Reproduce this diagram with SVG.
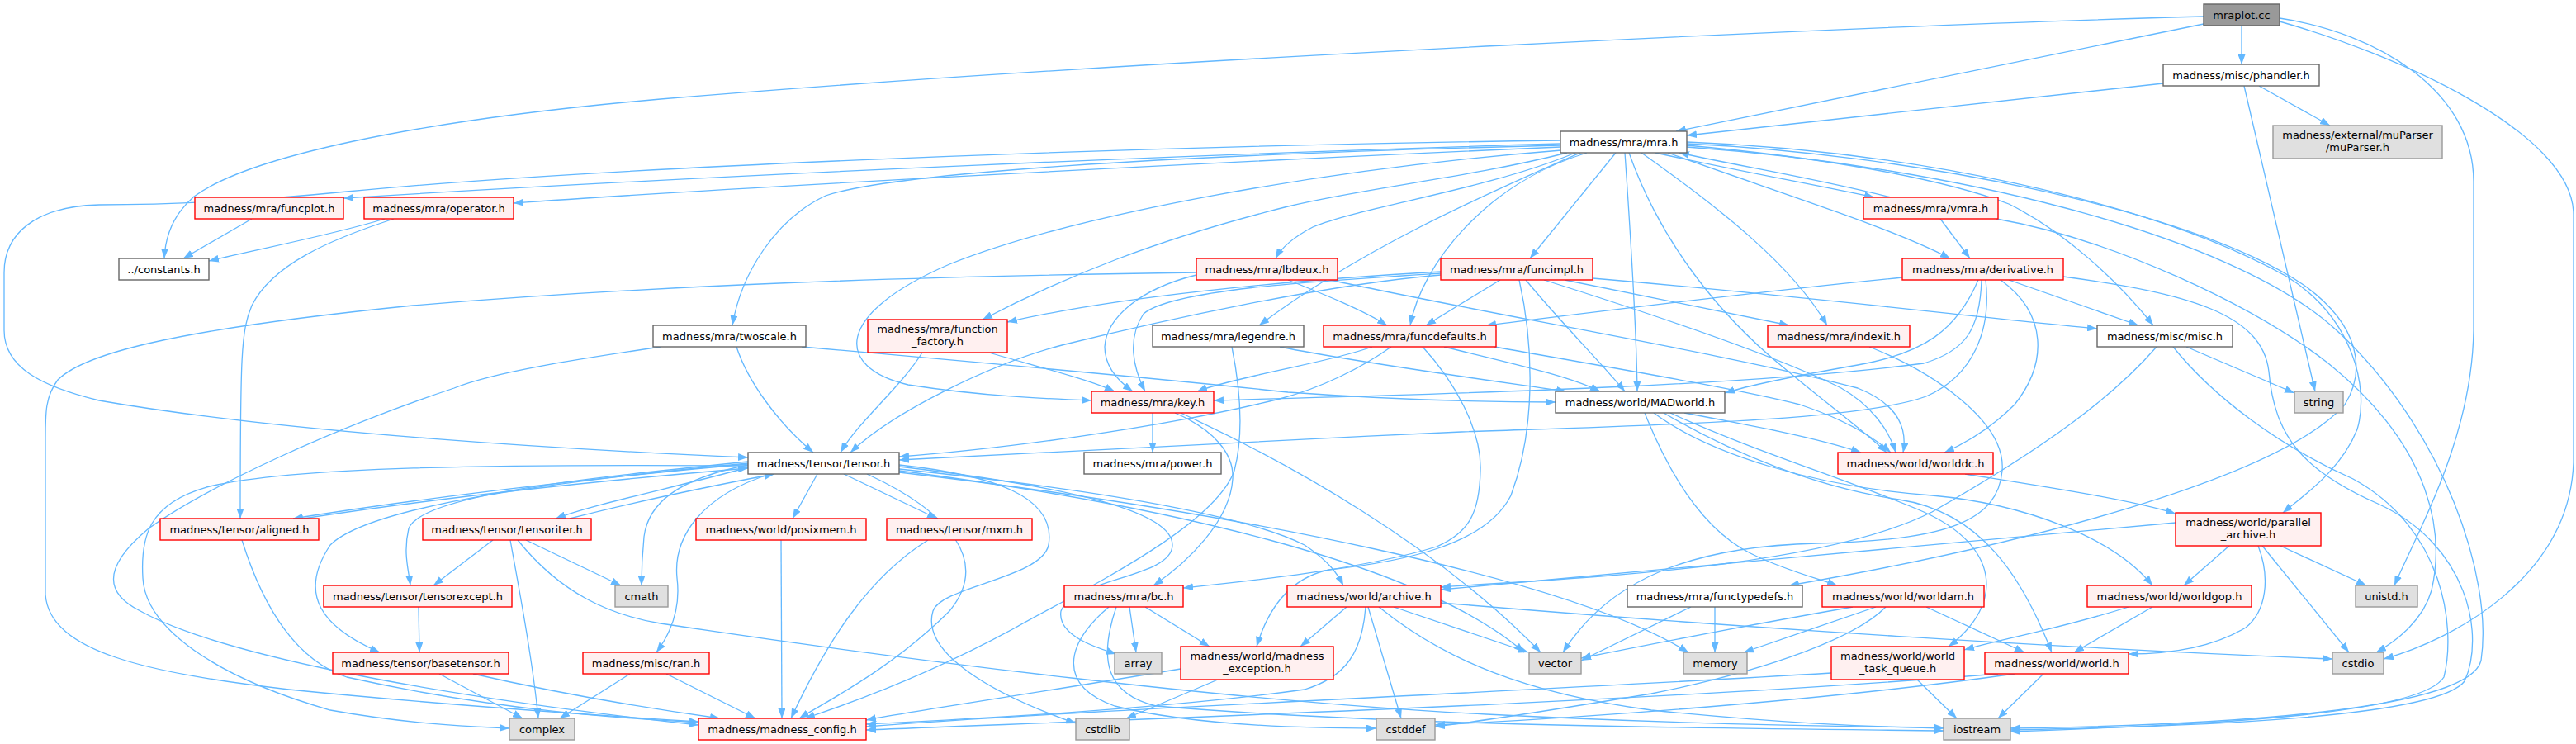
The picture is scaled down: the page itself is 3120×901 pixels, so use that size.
<svg xmlns="http://www.w3.org/2000/svg" width="3120" height="901" viewBox="0 0 3120 901">
<style>
rect{stroke-width:1.4}
.w rect{fill:#ffffff;stroke:#666666}
.r rect{fill:#fff0f0;stroke:#ff0000}
.g rect{fill:#e0e0e0;stroke:#999999}
.root rect{fill:#999999;stroke:#666666}
text{font-family:"DejaVu Sans","Liberation Sans",sans-serif;font-size:13px;text-anchor:middle;fill:#000000}
#edges path{fill:none;stroke:#63b8ff;stroke-width:1.3;marker-end:url(#a)}
</style>
<defs>
<marker id="a" markerUnits="userSpaceOnUse" markerWidth="12" markerHeight="9" refX="12" refY="4.5" orient="auto" viewBox="0 0 12 9"><path d="M0,0 L12,4.5 L0,9 z" fill="#63b8ff"/></marker>
</defs>
<rect x="0" y="0" width="3120" height="901" fill="#ffffff" stroke="none"/>
<g id="edges">
<path d="M2669,20 C2300,30 1400,70 800,120 C500,146 300,190 235,238 C207,262 200,290 199,313"/>
<path d="M2669,29 L2030,159"/>
<path d="M2715,31 L2715,78"/>
<path d="M2761,22 C2880,40 2996,110 2996,220 L2996,400 C2994,530 2930,640 2900,709"/>
<path d="M2761,26 C2900,65 3117,160 3117,260 L3117,560 C3112,700 2970,775 2887,798"/>
<path d="M2620,101 L2043,164"/>
<path d="M2736,104 L2822,152"/>
<path d="M2718,104 L2804,474"/>
<path d="M1890,170 C1300,178 700,205 420,232 C300,244 200,248 120,248 C40,250 5,285 5,330 L5,400 C5,445 50,468 120,485 C350,525 700,545 906,554"/>
<path d="M1890,174 C1500,185 900,210 416,240"/>
<path d="M1890,178 C1500,195 900,226 622,246"/>
<path d="M1890,176 C1400,188 1080,210 1000,237 C940,265 898,330 887,394"/>
<path d="M1891,182 C1600,205 1300,260 1150,320 C1010,380 1010,445 1100,466 C1190,480 1270,483 1322,485"/>
<path d="M1898,185 C1780,215 1650,228 1560,250 C1400,290 1290,335 1190,387"/>
<path d="M1908,185 C1800,230 1650,250 1590,275 C1565,288 1552,300 1545,313"/>
<path d="M1957,185 L1853,313"/>
<path d="M1922,185 C1800,222 1722,320 1708,394"/>
<path d="M1914,185 C1800,235 1650,300 1525,394"/>
<path d="M1968,185 C1976,300 1982,400 1983,474"/>
<path d="M1988,185 C2080,250 2170,320 2213,394"/>
<path d="M2005,185 C2100,206 2200,224 2270,239"/>
<path d="M2290,239 C2200,216 2100,200 2034,185"/>
<path d="M2020,185 C2150,232 2290,275 2362,313"/>
<path d="M2043,176 C2200,190 2350,215 2433,247 C2500,280 2565,340 2608,394"/>
<path d="M1973,185 C2010,290 2080,380 2160,445 C2220,495 2262,525 2285,548"/>
<path d="M2043,172 C2300,182 2600,240 2770,335 C2850,385 2870,470 2855,520 C2835,570 2790,600 2765,621"/>
<path d="M2043,174 C2300,186 2650,250 2790,345 C2860,395 2865,450 2840,490 C2760,580 2450,660 2167,709"/>
<path d="M2043,178 C2350,200 2700,280 2830,400 C2960,520 3020,700 3005,800 C2990,860 2700,878 2435,882"/>
<path d="M2350,265 L2386,313"/>
<path d="M2418,265 C2560,290 2730,370 2820,440 C2950,545 2960,650 2945,715 C2935,750 2905,775 2878,790"/>
<path d="M2304,336 C2100,356 1900,382 1800,394"/>
<path d="M2433,339 L2590,394"/>
<path d="M2400,339 C2398,400 2380,425 2330,440 C2100,470 1700,478 1470,485"/>
<path d="M2396,339 C2370,400 2330,428 2250,442 C2170,456 2120,466 2089,476"/>
<path d="M2405,339 C2412,400 2390,455 2333,480 C2250,510 2000,515 1770,523 C1500,535 1200,550 1089,557"/>
<path d="M2423,339 C2480,380 2480,440 2440,490 C2410,520 2380,537 2355,548"/>
<path d="M2499,335 C2650,355 2740,380 2748,450 C2755,530 2790,570 2880,610 C2990,660 3010,770 2985,825 C2950,870 2650,880 2435,884"/>
<path d="M2648,420 L2779,476"/>
<path d="M2632,420 C2680,480 2760,540 2850,580 C2960,640 2975,760 2960,820 C2930,868 2650,878 2435,886"/>
<path d="M2612,420 C2560,480 2480,540 2340,620 C2200,690 1900,700 1745,711"/>
<path d="M1817,339 L1727,394"/>
<path d="M1895,339 C2000,360 2100,380 2167,394"/>
<path d="M1929,337 C2200,360 2400,385 2540,398"/>
<path d="M1848,339 C1890,390 1940,440 1968,474"/>
<path d="M1870,339 C2000,380 2150,430 2230,470 C2265,490 2288,520 2296,548"/>
<path d="M1840,339 C1858,420 1860,520 1830,600 C1800,660 1700,680 1610,690 C1560,700 1535,740 1522,783"/>
<path d="M1745,329 C1550,340 1350,360 1220,390"/>
<path d="M1745,331 C1600,340 1420,350 1385,380 C1365,410 1372,445 1387,474"/>
<path d="M1745,333 C1600,345 1400,390 1290,417 C1200,440 1080,500 1030,548"/>
<path d="M1117,427 C1090,470 1040,510 1018,548"/>
<path d="M1198,427 C1260,445 1320,460 1350,474"/>
<path d="M892,420 C905,460 940,510 985,548"/>
<path d="M971,420 C1200,440 1400,458 1560,475 C1700,485 1800,487 1884,487"/>
<path d="M800,420 C700,435 600,450 550,470 C400,520 250,590 180,640 C120,690 130,720 170,740 C260,790 500,840 846,878"/>
<path d="M1550,420 C1650,440 1800,460 1897,474"/>
<path d="M1492,420 C1500,460 1508,520 1495,570 C1470,640 1300,720 1230,760 C1120,820 1020,855 975,870"/>
<path d="M1449,330 C1100,335 800,345 500,370 C200,400 100,430 70,460 C55,480 55,500 55,530 L55,720 C60,790 180,815 350,835 C550,855 750,868 846,874"/>
<path d="M1449,333 C1380,350 1340,385 1338,420 C1338,445 1355,462 1372,474"/>
<path d="M1560,339 C1600,355 1650,375 1680,394"/>
<path d="M1611,339 C1800,380 2100,430 2250,470 C2300,490 2310,520 2305,548"/>
<path d="M1662,420 C1620,435 1560,445 1520,455 C1490,462 1465,468 1450,474"/>
<path d="M1685,420 C1650,445 1600,470 1550,483 C1400,520 1200,545 1089,553"/>
<path d="M1723,420 C1760,460 1795,520 1793,570 C1792,620 1780,645 1740,662 C1650,690 1500,705 1433,712"/>
<path d="M1749,420 C1830,440 1900,455 1938,474"/>
<path d="M1810,420 C1950,445 2100,470 2180,490 C2240,510 2270,530 2290,548"/>
<path d="M1396,500 L1396,548"/>
<path d="M1423,500 C1470,520 1495,550 1493,580 C1490,630 1440,680 1397,709"/>
<path d="M1430,500 C1560,560 1740,660 1866,790"/>
<path d="M2040,500 C2120,515 2200,530 2254,548"/>
<path d="M1992,500 C2020,570 2060,640 2120,670 C2160,690 2200,700 2225,709"/>
<path d="M2003,500 C2070,550 2200,590 2340,600 C2450,610 2560,650 2607,709"/>
<path d="M2015,500 C2100,550 2200,590 2300,605 C2400,620 2450,700 2485,790"/>
<path d="M2023,500 C2120,545 2250,585 2330,620 C2420,660 2430,730 2360,783"/>
<path d="M2380,574 C2480,590 2580,605 2635,622"/>
<path d="M2635,633 C2400,655 2000,690 1745,714"/>
<path d="M2700,661 L2645,709"/>
<path d="M2735,661 C2750,700 2745,740 2720,760 C2670,790 2610,792 2578,792"/>
<path d="M2740,661 L2845,790"/>
<path d="M2762,661 L2866,709"/>
<path d="M2578,735 C2500,760 2420,775 2379,787"/>
<path d="M2607,735 L2512,790"/>
<path d="M2244,735 C2100,760 2000,780 1915,797"/>
<path d="M2272,735 L2112,790"/>
<path d="M2284,735 C2250,770 2150,810 2000,840 C1850,865 1780,875 1738,880"/>
<path d="M2333,735 L2452,790"/>
<path d="M2048,735 L1915,800"/>
<path d="M2077,735 L2077,790"/>
<path d="M1631,735 L1575,783"/>
<path d="M1688,735 L1851,790"/>
<path d="M1657,735 L1697,870"/>
<path d="M1670,735 C1750,800 1850,840 2000,860 C2150,875 2250,880 2354,882"/>
<path d="M1745,730 C2100,760 2500,785 2825,798"/>
<path d="M1654,735 C1650,790 1630,820 1580,835 C1400,860 1150,872 1049,877"/>
<path d="M1368,735 L1376,790"/>
<path d="M1387,735 L1465,783"/>
<path d="M1343,735 C1290,780 1280,830 1350,855 C1450,880 1600,882 1667,882"/>
<path d="M1352,735 C1330,800 1340,840 1400,855 C1700,880 2100,882 2354,885"/>
<path d="M1430,810 C1250,840 1100,862 1049,872"/>
<path d="M1475,823 L1364,870"/>
<path d="M2218,815 C1800,840 1300,860 1049,880"/>
<path d="M2322,823 L2370,870"/>
<path d="M2475,816 L2420,870"/>
<path d="M2440,816 C2200,850 1900,870 1738,878"/>
<path d="M2420,816 C2000,850 1400,870 1049,884"/>
<path d="M2264,420 C2340,450 2430,510 2425,570 C2420,630 2360,655 2200,658 C2050,662 1950,700 1893,790"/>
<path d="M946,654 L947,870"/>
<path d="M1124,654 C1050,700 1000,780 958,870"/>
<path d="M807,816 L915,870"/>
<path d="M763,816 L678,870"/>
<path d="M532,816 L633,870"/>
<path d="M573,816 C700,845 800,860 872,870"/>
<path d="M507,735 L508,790"/>
<path d="M597,654 L525,709"/>
<path d="M618,654 C630,720 645,800 652,870"/>
<path d="M637,654 L752,709"/>
<path d="M906,566 C820,590 720,610 673,628"/>
<path d="M690,628 C780,605 880,585 938,574"/>
<path d="M627,654 C680,720 740,745 800,755 C1100,800 1500,850 1800,865 C2000,875 2200,880 2354,881"/>
<path d="M293,654 C320,740 360,800 420,820 C600,860 750,870 846,875"/>
<path d="M367,628 C550,600 750,580 906,567"/>
<path d="M906,562 C700,580 500,605 355,628"/>
<path d="M906,559 C700,580 510,600 495,640 C488,670 495,690 497,709"/>
<path d="M906,561 C700,580 450,610 400,660 C360,720 390,760 460,790"/>
<path d="M906,563 C820,580 785,610 780,650 C777,680 777,695 777,709"/>
<path d="M933,574 C850,600 815,650 820,700 C825,740 810,770 795,790"/>
<path d="M906,564 C600,562 350,565 250,590 C180,610 170,650 173,700 C176,760 260,820 400,860 C500,878 580,880 617,882"/>
<path d="M990,574 L960,628"/>
<path d="M1022,574 L1135,628"/>
<path d="M1089,563 C1200,575 1280,600 1270,660 C1262,700 1140,710 1130,740 C1115,790 1200,840 1303,876"/>
<path d="M1089,565 C1300,590 1420,620 1420,660 C1420,700 1300,700 1285,740 C1280,770 1330,785 1352,792"/>
<path d="M1089,568 C1300,590 1500,620 1580,660 C1610,680 1620,695 1627,709"/>
<path d="M1089,570 C1400,610 1720,680 1846,790"/>
<path d="M1089,572 C1500,620 1900,700 2045,790"/>
<path d="M1050,574 C1150,620 1200,680 1150,740 C1080,810 1000,850 968,870"/>
<path d="M305,265 L222,313"/>
<path d="M466,265 C400,285 320,300 253,316"/>
<path d="M477,265 C400,290 330,320 305,370 C292,400 291,430 291,628"/>
</g>
<g id="n-mraplot" class="root"><rect x="2669" y="5" width="92" height="26"/><text x="2715" y="22.5">mraplot.cc</text></g>
<g id="n-phandler" class="w"><rect x="2620" y="78" width="189" height="26"/><text x="2714.5" y="95.5">madness/misc/phandler.h</text></g>
<g id="n-muparser" class="g"><rect x="2753" y="152" width="205" height="40"/><text x="2855.5" y="167.5">madness/external/muParser</text><text x="2855.5" y="182.5">/muParser.h</text></g>
<g id="n-mra" class="w"><rect x="1890" y="159" width="153" height="26"/><text x="1966.5" y="176.5">madness/mra/mra.h</text></g>
<g id="n-funcplot" class="r"><rect x="236" y="239" width="180" height="26"/><text x="326" y="256.5">madness/mra/funcplot.h</text></g>
<g id="n-operator" class="r"><rect x="441" y="239" width="181" height="26"/><text x="531.5" y="256.5">madness/mra/operator.h</text></g>
<g id="n-vmra" class="r"><rect x="2257" y="239" width="163" height="26"/><text x="2338.5" y="256.5">madness/mra/vmra.h</text></g>
<g id="n-constants" class="w"><rect x="144" y="313" width="109" height="26"/><text x="198.5" y="330.5">../constants.h</text></g>
<g id="n-lbdeux" class="r"><rect x="1449" y="313" width="171" height="26"/><text x="1534.5" y="330.5">madness/mra/lbdeux.h</text></g>
<g id="n-funcimpl" class="r"><rect x="1745" y="313" width="184" height="26"/><text x="1837" y="330.5">madness/mra/funcimpl.h</text></g>
<g id="n-derivative" class="r"><rect x="2304" y="313" width="195" height="26"/><text x="2401.5" y="330.5">madness/mra/derivative.h</text></g>
<g id="n-twoscale" class="w"><rect x="791" y="394" width="185" height="26"/><text x="883.5" y="411.5">madness/mra/twoscale.h</text></g>
<g id="n-function_factory" class="r"><rect x="1051" y="387" width="169" height="40"/><text x="1135.5" y="402.5">madness/mra/function</text><text x="1135.5" y="417.5">_factory.h</text></g>
<g id="n-legendre" class="w"><rect x="1396" y="394" width="183" height="26"/><text x="1487.5" y="411.5">madness/mra/legendre.h</text></g>
<g id="n-funcdefaults" class="r"><rect x="1603" y="394" width="209" height="26"/><text x="1707.5" y="411.5">madness/mra/funcdefaults.h</text></g>
<g id="n-indexit" class="r"><rect x="2141" y="394" width="172" height="26"/><text x="2227" y="411.5">madness/mra/indexit.h</text></g>
<g id="n-misc" class="w"><rect x="2540" y="394" width="164" height="26"/><text x="2622" y="411.5">madness/misc/misc.h</text></g>
<g id="n-key" class="r"><rect x="1322" y="474" width="148" height="26"/><text x="1396" y="491.5">madness/mra/key.h</text></g>
<g id="n-madworld" class="w"><rect x="1884" y="474" width="205" height="26"/><text x="1986.5" y="491.5">madness/world/MADworld.h</text></g>
<g id="n-string" class="g"><rect x="2779" y="474" width="59" height="26"/><text x="2808.5" y="491.5">string</text></g>
<g id="n-tensor" class="w"><rect x="906" y="548" width="183" height="26"/><text x="997.5" y="565.5">madness/tensor/tensor.h</text></g>
<g id="n-power" class="w"><rect x="1313" y="548" width="166" height="26"/><text x="1396" y="565.5">madness/mra/power.h</text></g>
<g id="n-worlddc" class="r"><rect x="2226" y="548" width="188" height="26"/><text x="2320" y="565.5">madness/world/worlddc.h</text></g>
<g id="n-aligned" class="r"><rect x="194" y="628" width="192" height="26"/><text x="290" y="645.5">madness/tensor/aligned.h</text></g>
<g id="n-tensoriter" class="r"><rect x="512" y="628" width="204" height="26"/><text x="614" y="645.5">madness/tensor/tensoriter.h</text></g>
<g id="n-posixmem" class="r"><rect x="843" y="628" width="206" height="26"/><text x="946" y="645.5">madness/world/posixmem.h</text></g>
<g id="n-mxm" class="r"><rect x="1074" y="628" width="176" height="26"/><text x="1162" y="645.5">madness/tensor/mxm.h</text></g>
<g id="n-parallel_archive" class="r"><rect x="2635" y="621" width="176" height="40"/><text x="2723" y="636.5">madness/world/parallel</text><text x="2723" y="651.5">_archive.h</text></g>
<g id="n-tensorexcept" class="r"><rect x="392" y="709" width="228" height="26"/><text x="506" y="726.5">madness/tensor/tensorexcept.h</text></g>
<g id="n-cmath" class="g"><rect x="745" y="709" width="64" height="26"/><text x="777" y="726.5">cmath</text></g>
<g id="n-bc" class="r"><rect x="1289" y="709" width="144" height="26"/><text x="1361" y="726.5">madness/mra/bc.h</text></g>
<g id="n-archive" class="r"><rect x="1559" y="709" width="186" height="26"/><text x="1652" y="726.5">madness/world/archive.h</text></g>
<g id="n-functypedefs" class="w"><rect x="1971" y="709" width="212" height="26"/><text x="2077" y="726.5">madness/mra/functypedefs.h</text></g>
<g id="n-worldam" class="r"><rect x="2207" y="709" width="196" height="26"/><text x="2305" y="726.5">madness/world/worldam.h</text></g>
<g id="n-worldgop" class="r"><rect x="2528" y="709" width="199" height="26"/><text x="2627.5" y="726.5">madness/world/worldgop.h</text></g>
<g id="n-unistd" class="g"><rect x="2853" y="709" width="75" height="26"/><text x="2890.5" y="726.5">unistd.h</text></g>
<g id="n-basetensor" class="r"><rect x="403" y="790" width="213" height="26"/><text x="509.5" y="807.5">madness/tensor/basetensor.h</text></g>
<g id="n-ran" class="r"><rect x="706" y="790" width="153" height="26"/><text x="782.5" y="807.5">madness/misc/ran.h</text></g>
<g id="n-array" class="g"><rect x="1350" y="790" width="57" height="26"/><text x="1378.5" y="807.5">array</text></g>
<g id="n-exception" class="r"><rect x="1430" y="783" width="185" height="40"/><text x="1522.5" y="798.5">madness/world/madness</text><text x="1522.5" y="813.5">_exception.h</text></g>
<g id="n-vector" class="g"><rect x="1852" y="790" width="63" height="26"/><text x="1883.5" y="807.5">vector</text></g>
<g id="n-memory" class="g"><rect x="2039" y="790" width="77" height="26"/><text x="2077.5" y="807.5">memory</text></g>
<g id="n-world_task_queue" class="r"><rect x="2218" y="783" width="161" height="40"/><text x="2298.5" y="798.5">madness/world/world</text><text x="2298.5" y="813.5">_task_queue.h</text></g>
<g id="n-world" class="r"><rect x="2404" y="790" width="174" height="26"/><text x="2491" y="807.5">madness/world/world.h</text></g>
<g id="n-cstdio" class="g"><rect x="2825" y="790" width="62" height="26"/><text x="2856" y="807.5">cstdio</text></g>
<g id="n-complex" class="g"><rect x="617" y="870" width="79" height="26"/><text x="656.5" y="887.5">complex</text></g>
<g id="n-config" class="r"><rect x="846" y="870" width="203" height="26"/><text x="947.5" y="887.5">madness/madness_config.h</text></g>
<g id="n-cstdlib" class="g"><rect x="1303" y="870" width="65" height="26"/><text x="1335.5" y="887.5">cstdlib</text></g>
<g id="n-cstddef" class="g"><rect x="1667" y="870" width="71" height="26"/><text x="1702.5" y="887.5">cstddef</text></g>
<g id="n-iostream" class="g"><rect x="2354" y="870" width="81" height="26"/><text x="2394.5" y="887.5">iostream</text></g>
</svg>
